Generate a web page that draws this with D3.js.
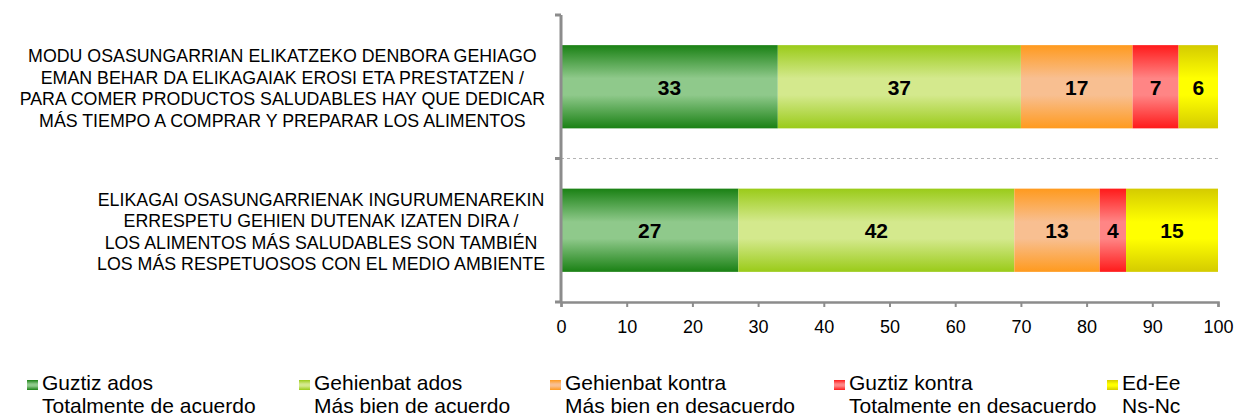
<!DOCTYPE html>
<html>
<head>
<meta charset="utf-8">
<script src="https://cdn.jsdelivr.net/npm/d3@7"></script>
<style>
  body { margin: 0; background: #fff; }
  svg { display: block; font-family: "Liberation Sans", Arial, sans-serif; }
</style>
</head>
<body>
<svg id="chart" width="1237" height="417"></svg>
<script>
// categories (each label split in its lines)
const categories = [
    ['MODU OSASUNGARRIAN ELIKATZEKO DENBORA GEHIAGO',
     'EMAN BEHAR DA ELIKAGAIAK EROSI ETA PRESTATZEN /',
     'PARA COMER PRODUCTOS SALUDABLES HAY QUE DEDICAR',
     'MÁS TIEMPO A COMPRAR Y PREPARAR LOS ALIMENTOS'],
    ['ELIKAGAI OSASUNGARRIENAK INGURUMENAREKIN',
     'ERRESPETU GEHIEN DUTENAK IZATEN DIRA /',
     'LOS ALIMENTOS MÁS SALUDABLES SON TAMBIÉN',
     'LOS MÁS RESPETUOSOS CON EL MEDIO AMBIENTE']
];

// series values, one per category
const guztizAdos = [33, 27];
const gehienbatAdos = [37, 42];
const gehienbatKontra = [17, 13];
const guztizKontra = [7, 4];
const edEe = [6, 15];

const seriesNames = [
    ['Guztiz ados', 'Totalmente de acuerdo'],
    ['Gehienbat ados', 'Más bien de acuerdo'],
    ['Gehienbat kontra', 'Más bien en desacuerdo'],
    ['Guztiz kontra', 'Totalmente en desacuerdo'],
    ['Ed-Ee', 'Ns-Nc']
];
const seriesValues = [guztizAdos, gehienbatAdos, gehienbatKontra, guztizKontra, edEe];

const xTicks = [0, 10, 20, 30, 40, 50, 60, 70, 80, 90, 100];

// styles: [dark edge, light middle]
const palette = [
    ['#1a8114', '#8fc98b'],
    ['#9acb19', '#d4e98d'],
    ['#ff9a1e', '#f8bf91'],
    ['#ff1a1a', '#ff8585'],
    ['#d4cb00', '#ffff00']
];

const svg = d3.select('#chart');
const plotLeft = 561, plotRight = 1218, plotTop = 15, plotBottom = 302;
const axisColor = '#8c8c8c';

const x = d3.scaleLinear().domain([0, 100]).range([plotLeft, plotRight]);
const y = d3.scaleBand().domain(d3.range(categories.length))
    .range([plotTop, plotBottom]).paddingInner(0.42).paddingOuter(0.21);

// gradients
const defs = svg.append('defs');
palette.forEach((c, i) => {
    const g = defs.append('linearGradient').attr('id', 'grad' + i)
        .attr('x1', 0).attr('y1', 0).attr('x2', 0).attr('y2', 1);
    g.append('stop').attr('offset', '0%').attr('stop-color', c[0]);
    g.append('stop').attr('offset', '40%').attr('stop-color', c[1]);
    g.append('stop').attr('offset', '60%').attr('stop-color', c[1]);
    g.append('stop').attr('offset', '100%').attr('stop-color', c[0]);
});
defs.append('clipPath').attr('id', 'plotclip')
    .append('rect').attr('x', plotLeft).attr('y', plotTop)
    .attr('width', plotRight - plotLeft).attr('height', plotBottom - plotTop);

// stack the values
const stacked = categories.map((cat, ci) => {
    let acc = 0;
    return seriesValues.map((vals, si) => {
        const seg = { ci, si, v: vals[ci], x0: acc, x1: acc + vals[ci] };
        acc += vals[ci];
        return seg;
    });
}).flat();

// dashed separator between categories
const step = y.step();
for (let i = 1; i < categories.length; i++) {
    const yy = plotTop + step * i;
    svg.append('line').attr('x1', plotLeft).attr('x2', plotRight).attr('y1', yy).attr('y2', yy)
        .attr('stroke', '#b4b4b4').attr('stroke-width', 1).attr('stroke-dasharray', '3,3');
}

// bars
svg.append('g').attr('clip-path', 'url(#plotclip)')
    .selectAll('rect').data(stacked).enter().append('rect')
    .attr('x', d => x(d.x0))
    .attr('y', d => y(d.ci))
    .attr('width', d => x(d.x1) - x(d.x0))
    .attr('height', y.bandwidth())
    .attr('fill', d => `url(#grad${d.si})`);

// value labels
svg.append('g').selectAll('text').data(stacked).enter().append('text')
    .attr('x', d => (x(d.x0) + x(Math.min(d.x1, 100))) / 2)
    .attr('y', d => y(d.ci) + y.bandwidth() / 2)
    .attr('dy', '0.38em')
    .attr('text-anchor', 'middle')
    .attr('font-size', 21).attr('font-weight', 'bold').attr('fill', '#000')
    .text(d => d.v);

// x axis
const xAxis = svg.append('g').attr('transform', `translate(0,${plotBottom})`)
    .call(d3.axisBottom(x).tickValues(xTicks).tickSize(5).tickSizeOuter(5));
xAxis.select('.domain').attr('stroke', axisColor).attr('stroke-width', 2.5);
xAxis.selectAll('.tick line').attr('stroke', axisColor).attr('stroke-width', 2);
xAxis.selectAll('.tick text').attr('font-size', 18).attr('fill', '#000')
    .attr('font-family', '"Liberation Sans", Arial, sans-serif').attr('dy', '1.3em');

// y axis line with ticks at band boundaries
const yTicks = d3.range(categories.length + 1).map(i => plotTop + step * i);
svg.append('line').attr('x1', plotLeft).attr('x2', plotLeft).attr('y1', plotTop).attr('y2', plotBottom)
    .attr('stroke', axisColor).attr('stroke-width', 3);
svg.selectAll('.ytick').data(yTicks).enter().append('line')
    .attr('x1', plotLeft - 6).attr('x2', plotLeft).attr('y1', d => d).attr('y2', d => d)
    .attr('stroke', axisColor).attr('stroke-width', 3);

// category labels, lines centred, block right edge at 545
categories.forEach((lines, ci) => {
    const g = svg.append('g');
    const lh = 21.4;
    const cy = y(ci) + y.bandwidth() / 2 + 1.5;
    const texts = lines.map((ln, li) => g.append('text')
        .attr('y', cy + (li - (lines.length - 1) / 2) * lh)
        .attr('dy', '0.35em')
        .attr('text-anchor', 'middle')
        .attr('font-size', 17.8).attr('fill', '#000')
        .text(ln));
    const maxW = d3.max(texts, t => t.node().getComputedTextLength());
    texts.forEach(t => t.attr('x', 545 - maxW / 2));
});

// legend
const legendX = [27, 299, 550, 834, 1107];
const legend = svg.append('g').selectAll('g').data(seriesNames).enter().append('g')
    .attr('transform', (d, i) => `translate(${legendX[i]},0)`);
legend.append('rect').attr('x', 0).attr('y', 380).attr('width', 11).attr('height', 10)
    .attr('fill', (d, i) => `url(#grad${i})`);
legend.append('text').attr('x', 15).attr('y', 390)
    .attr('font-size', 21).attr('fill', '#000').text(d => d[0]);
legend.append('text').attr('x', 15).attr('y', 413)
    .attr('font-size', 21).attr('fill', '#000').text(d => d[1]);
</script>
</body>
</html>
